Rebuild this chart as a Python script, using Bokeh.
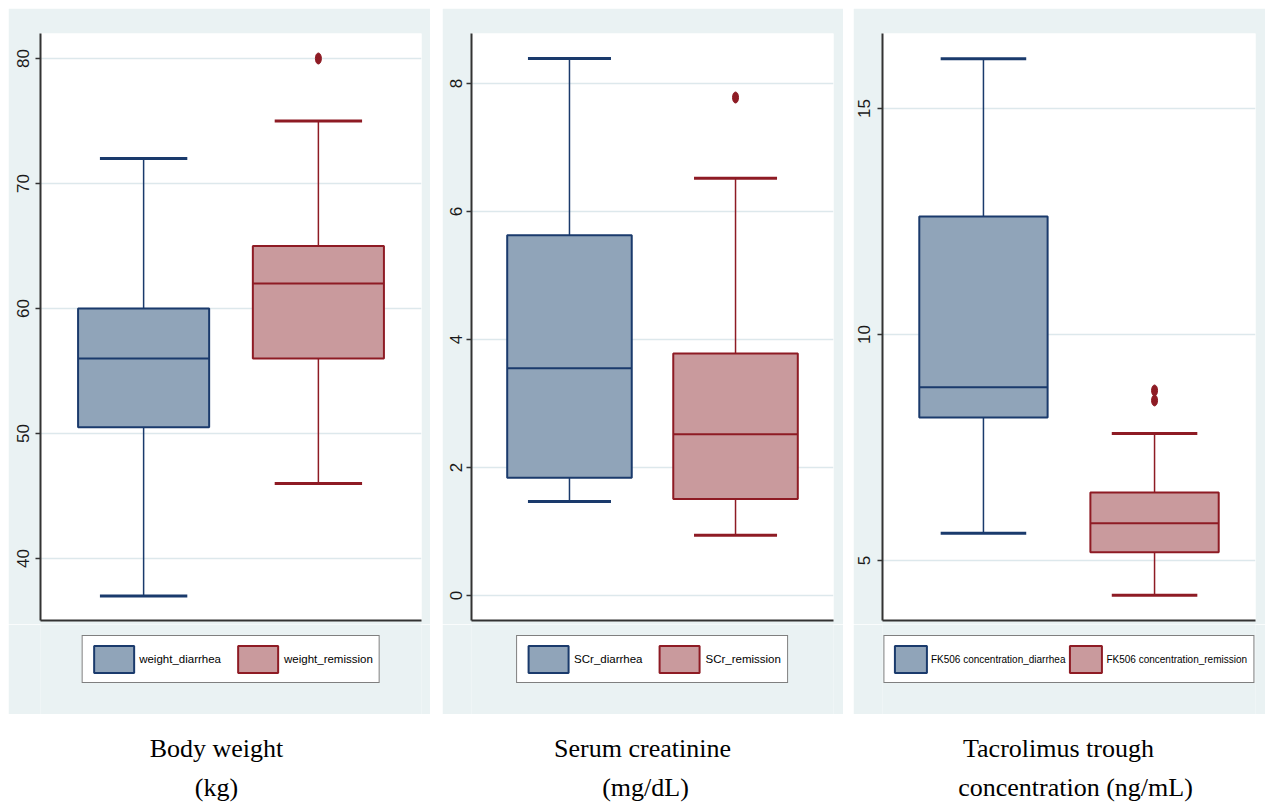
from bokeh.plotting import figure
from bokeh.models import Range1d, Legend, LegendItem, ColumnDataSource
from bokeh.layouts import row, column, Spacer
from bokeh.core.properties import value
from bokeh.embed import file_html
from bokeh.resources import INLINE

# ---------------- data ----------------
groups = [0, 1]

weight_labels = ["weight_diarrhea", "weight_remission"]
weight_lower = [37.0, 46.0]
weight_q1 = [50.5, 56.0]
weight_median = [56.0, 62.0]
weight_q3 = [60.0, 65.0]
weight_upper = [72.0, 75.0]
weight_out_x = [1]
weight_out_y = [80.0]
weight_ticks = [40, 50, 60, 70, 80]

scr_labels = ["SCr_diarrhea", "SCr_remission"]
scr_lower = [1.47, 0.94]
scr_q1 = [1.84, 1.51]
scr_median = [3.55, 2.52]
scr_q3 = [5.63, 3.78]
scr_upper = [8.39, 6.52]
scr_out_x = [1]
scr_out_y = [7.78]
scr_ticks = [0, 2, 4, 6, 8]

fk_labels = ["FK506 concentration_diarrhea", "FK506 concentration_remission"]
fk_lower = [5.6, 4.23]
fk_q1 = [8.16, 5.18]
fk_median = [8.83, 5.82]
fk_q3 = [12.61, 6.5]
fk_upper = [16.1, 7.81]
fk_out_x = [1, 1]
fk_out_y = [8.76, 8.54]
fk_ticks = [5, 10, 15]

caption_texts = ["Body weight", "(kg)", "Serum creatinine", "(mg/dL)",
                 "Tacrolimus trough", "concentration (ng/mL)"]
caption_x = [208, 208, 634, 637, 1050, 1067]
caption_y = [34, 73, 34, 73, 34, 73]

# ---------------- style ----------------
FILLS = ["#90a4b9", "#c99a9d"]
LINES = ["#1a3a6c", "#8e1b24"]
PANEL_BG = "#eaf2f3"
GRID = "#dde8ec"
AXIS = "#333333"
BOX_W = 0.75
CAP_W = 0.5
LEGEND_FONT = "Liberation Sans"


def make_panel(width, left, right, yr, ticks, labels, lower, q1, med, q3, upper,
               ox, oy, legend_font, legend_spacing, key_w, standoff):
    p = figure(width=width, height=616, x_range=Range1d(-0.59, 1.59),
               y_range=Range1d(*yr), output_backend="svg", toolbar_location=None,
               min_border_left=left, min_border_right=right, min_border_top=25,
               min_border_bottom=4)
    p.border_fill_color = PANEL_BG
    p.background_fill_color = "white"
    p.outline_line_color = None

    p.xgrid.visible = False
    p.ygrid.grid_line_color = GRID
    p.ygrid.grid_line_width = 1.5

    p.yaxis.ticker = ticks
    p.yaxis.major_label_orientation = "vertical"
    p.yaxis.major_label_text_font = "Liberation Sans"
    p.yaxis.major_label_text_font_size = "17px"
    p.yaxis.major_label_text_color = "#1a1a1a"
    p.yaxis.major_label_standoff = standoff
    p.yaxis.major_tick_out = 5
    p.yaxis.major_tick_in = 0
    p.yaxis.major_tick_line_color = AXIS
    p.yaxis.major_tick_line_width = 1.5
    p.yaxis.minor_tick_line_color = None
    p.yaxis.axis_line_color = AXIS
    p.yaxis.axis_line_width = 2

    p.xaxis.ticker = []
    p.xaxis.major_tick_line_color = None
    p.xaxis.minor_tick_line_color = None
    p.xaxis.major_label_text_font_size = "0px"
    p.xaxis.major_label_standoff = 0
    p.xaxis.axis_line_color = AXIS
    p.xaxis.axis_line_width = 2

    sources = []
    for i in range(len(groups)):
        g = groups[i]
        src = ColumnDataSource(dict(
            x=[g], x0=[g - BOX_W / 2], x1=[g + BOX_W / 2],
            c0=[g - CAP_W / 2], c1=[g + CAP_W / 2],
            lower=[lower[i]], q1=[q1[i]], med=[med[i]], q3=[q3[i]], upper=[upper[i]]))
        sources.append(src)
        p.segment(x0="x", x1="x", y0="q3", y1="upper", source=src,
                  line_color=LINES[i], line_width=1.5)
        p.segment(x0="x", x1="x", y0="lower", y1="q1", source=src,
                  line_color=LINES[i], line_width=1.5)
        p.segment(x0="c0", x1="c1", y0="upper", y1="upper", source=src,
                  line_color=LINES[i], line_width=3)
        p.segment(x0="c0", x1="c1", y0="lower", y1="lower", source=src,
                  line_color=LINES[i], line_width=3)
        p.vbar(x="x", bottom="q1", top="q3", width=BOX_W, source=src,
               fill_color=FILLS[i], line_color=LINES[i], line_width=2)
        p.segment(x0="x0", x1="x1", y0="med", y1="med", source=src,
                  line_color=LINES[i], line_width=2)

    p.ellipse(x=ox, y=oy, width=6, height=11, width_units="screen",
              height_units="screen", fill_color=LINES[1], line_color=LINES[1])

    # legend strip below the plot (same panel background); key glyphs reuse the
    # box sources but are hidden, so only their legend swatches are drawn
    lg = figure(width=width, height=90, x_range=Range1d(-0.59, 1.59),
                y_range=Range1d(*yr), output_backend="svg",
                toolbar_location=None, x_axis_location=None, y_axis_location=None,
                min_border_left=left, min_border_right=right,
                min_border_top=0, min_border_bottom=0)
    lg.grid.visible = False
    lg.outline_line_color = None
    lg.background_fill_color = PANEL_BG
    lg.border_fill_color = PANEL_BG
    keys = []
    for i in range(len(groups)):
        keys.append(lg.vbar(x="x", bottom="q1", top="q3", width=BOX_W,
                            source=sources[i], fill_color=FILLS[i],
                            line_color=LINES[i], line_width=2, visible=False))
    legend = Legend(
        items=[LegendItem(label=labels[i], renderers=[keys[i]])
               for i in range(len(groups))],
        orientation="horizontal", location="top_center",
        glyph_width=key_w, glyph_height=34, label_standoff=1,
        spacing=legend_spacing, padding=6, margin=11,
        border_line_color="black", border_line_width=1.5,
        background_fill_color="white", background_fill_alpha=1.0,
        label_text_font=LEGEND_FONT,
        label_text_font_size=legend_font, label_text_color="black")
    lg.add_layout(legend)
    return column(p, lg)


p1 = make_panel(422, 32, 9, (35.04, 82.0), weight_ticks, weight_labels,
                weight_lower, weight_q1, weight_median, weight_q3, weight_upper,
                weight_out_x, weight_out_y, "11.5px", 12, 50, 7)
p2 = make_panel(401, 29, 10, (-0.39, 8.78), scr_ticks, scr_labels,
                scr_lower, scr_q1, scr_median, scr_q3, scr_upper,
                scr_out_x, scr_out_y, "11.5px", 12, 50, 4)
p3 = make_panel(412, 29, 10, (3.67, 16.66), fk_ticks, fk_labels,
                fk_lower, fk_q1, fk_median, fk_q3, fk_upper,
                fk_out_x, fk_out_y, "10px", 0, 40, 7)

cap = figure(width=1257, height=90, x_range=Range1d(0, 1257), y_range=Range1d(90, 0),
             output_backend="svg", toolbar_location=None, min_border=0,
             x_axis_location=None, y_axis_location=None)
cap.grid.visible = False
cap.outline_line_color = None
cap.background_fill_color = "white"
cap.border_fill_color = "white"
cap.text(x=caption_x, y=caption_y, text=caption_texts,
         text_font=value("Liberation Serif"), text_font_size="26px",
         text_align="center", text_baseline="middle", text_color="black")

panels = row(Spacer(width=8), p1, Spacer(width=12), p2, Spacer(width=10), p3)
layout = column(Spacer(height=8), panels, row(Spacer(width=8), cap))

open("out.html", "w").write(file_html(layout, INLINE))
